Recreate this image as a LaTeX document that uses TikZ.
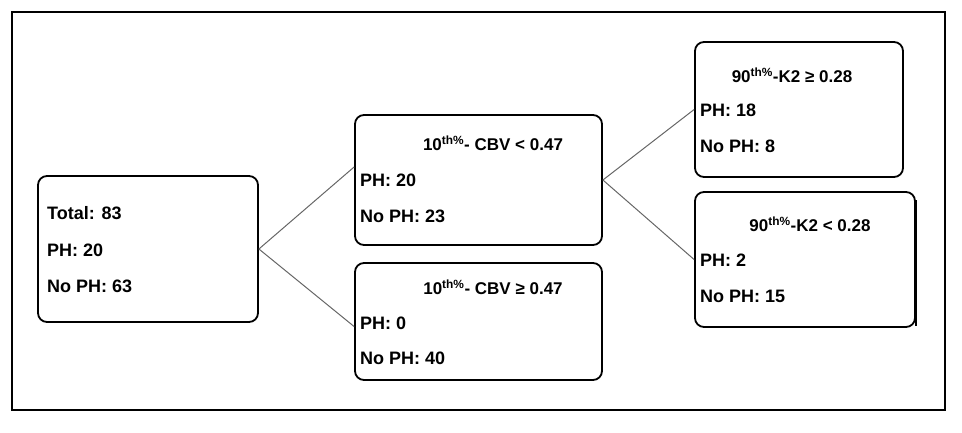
\documentclass[tikz,border=0pt]{standalone}
\usepackage{fontspec}
\setmainfont{Liberation Sans}
\usetikzlibrary{calc}
\begin{document}
\begin{tikzpicture}[x=1pt,y=-1pt,
  box/.style={draw=black,line width=1.8pt,rounded corners=9pt},
  txt/.style={anchor=west,inner sep=0pt,font=\fontsize{18}{20}\selectfont\bfseries},
  ttl/.style={anchor=center,inner sep=0pt,font=\fontsize{17}{20}\selectfont\bfseries},
  con/.style={draw=gray!80!black,line width=1pt}]
\useasboundingbox (0,0) rectangle (962,432);
\draw[line width=1.6pt] (12,12) rectangle (945,410);
\node[box,minimum width=220pt,minimum height=146pt] (l) at (148,249) {};
\node[box,minimum width=247pt,minimum height=130pt] (mt) at (478.5,180) {};
\node[box,minimum width=247pt,minimum height=117pt] (mb) at (478.5,321.5) {};
\node[box,minimum width=208pt,minimum height=135pt] (rt) at (799,109.5) {};
\node[box,minimum width=220pt,minimum height=135pt] (rb) at (805,259.5) {};
\draw[line width=1.5pt] (916,200) -- (916,326);
\node[txt] (l1) at (47,213) {Total: 83};
\node[txt] (l2) at (47,250) {PH: 20};
\node[txt] (l3) at (47,286) {No PH: 63};
\node[ttl] (m1) at (493,143) {10\textsuperscript{th\%}- CBV < 0.47};
\node[txt] (m2) at (360,180) {PH: 20};
\node[txt] (m3) at (360,216) {No PH: 23};
\node[ttl] (n1) at (493,287) {10\textsuperscript{th\%}- CBV ≥ 0.47};
\node[txt] (n2) at (360,323) {PH: 0};
\node[txt] (n3) at (360,358) {No PH: 40};
\node[ttl] (r1) at (792,75) {90\textsuperscript{th\%}-K2 ≥ 0.28};
\node[txt] (r2) at (700,110) {PH: 18};
\node[txt] (r3) at (700,146) {No PH: 8};
\node[ttl] (s1) at (810,224) {90\textsuperscript{th\%}-K2 < 0.28};
\node[txt] (s2) at (700,260) {PH: 2};
\node[txt] (s3) at (700,296) {No PH: 15};
\draw[con] (l.east) -- ([yshift=13pt]mt.west);
\draw[con] (l.east) -- ([yshift=-5pt]mb.west);
\draw[con] (mt.east) -- (rt.west);
\draw[con] (mt.east) -- (rb.west);
\end{tikzpicture}
\end{document}
